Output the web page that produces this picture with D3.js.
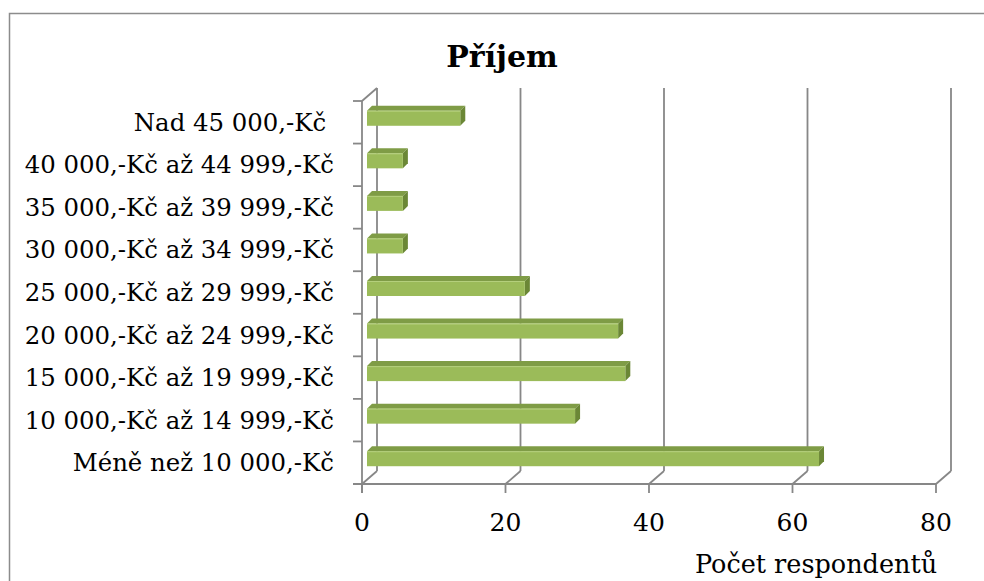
<!DOCTYPE html>
<html>
<head>
<meta charset="utf-8">
<script src="https://cdn.jsdelivr.net/npm/d3@7"></script>
<style>
  body { margin: 0; background: #fff; }
  text { font-family: "DejaVu Serif", serif; fill: #000; }
</style>
</head>
<body>
<svg id="chart" width="984" height="581"></svg>
<script>
// income bands, bottom to top as drawn
var categories = [
  "Méně než 10 000,-Kč",
  "10 000,-Kč až 14 999,-Kč",
  "15 000,-Kč až 19 999,-Kč",
  "20 000,-Kč až 24 999,-Kč",
  "25 000,-Kč až 29 999,-Kč",
  "30 000,-Kč až 34 999,-Kč",
  "35 000,-Kč až 39 999,-Kč",
  "40 000,-Kč až 44 999,-Kč",
  "Nad 45 000,-Kč "
];
var values = [63, 29, 36, 35, 22, 5, 5, 5, 13];
var xTicks = [0, 20, 40, 60, 80];
var title = "Příjem";
var xTitle = "Počet respondentů";

var svg = d3.select("#chart");

var x = d3.scaleLinear().domain([0, 80]).range([362, 936]),
    y = d3.scaleBand().domain(categories).range([484, 101]);

// 3d offsets (back wall, bar position inside depth)
var wallDx = 15, wallDy = -13,
    barDx = 5, barDy = -5,
    barH = 15, barDepth = 5,
    gridColor = "#878787";

// outer frame
svg.append("path")
  .attr("d", "M9.5,581V13.5H984")
  .attr("fill", "none")
  .attr("stroke", "#8c8c8c")
  .attr("stroke-width", 1.5);

// title
svg.append("text")
  .attr("x", 502).attr("y", 67)
  .attr("text-anchor", "middle")
  .style("font-size", "30px")
  .style("font-weight", "bold")
  .text(title);

var y0 = y.range()[0], y1 = y.range()[1];
var grid = svg.append("g")
  .attr("fill", "none")
  .attr("stroke", gridColor)
  .attr("stroke-width", 1.8);

// back gridlines + floor diagonals
xTicks.forEach(function(v) {
  grid.append("line")
    .attr("x1", x(v) + wallDx).attr("x2", x(v) + wallDx)
    .attr("y1", y1 + wallDy).attr("y2", y0 + wallDy);
  grid.append("line")
    .attr("x1", x(v)).attr("y1", y0)
    .attr("x2", x(v) + wallDx).attr("y2", y0 + wallDy);
  grid.append("line")
    .attr("x1", x(v)).attr("x2", x(v))
    .attr("y1", y0).attr("y2", y0 + 9);
});

// left wall top edge + front value axis
grid.append("line")
  .attr("x1", x(0)).attr("y1", y1)
  .attr("x2", x(0) + wallDx).attr("y2", y1 + wallDy);
grid.append("line")
  .attr("x1", x(0)).attr("x2", x(0))
  .attr("y1", y1).attr("y2", y0 + 9);
grid.append("line")
  .attr("x1", x(0) - 9).attr("x2", x(80))
  .attr("y1", y0).attr("y2", y0);

// category tick marks at band boundaries
categories.forEach(function(c) {
  grid.append("line")
    .attr("x1", x(0) - 9).attr("x2", x(0))
    .attr("y1", y(c)).attr("y2", y(c));
});

// bars
var bars = svg.append("g").selectAll("g")
  .data(categories)
  .enter().append("g");

bars.each(function(c, i) {
  var g = d3.select(this),
      xa = x(0) + barDx,
      xb = x(values[i]) + barDx,
      yt = y(c) + y.bandwidth() / 2 + barDy - barH / 2 + 1,
      yb = yt + barH;
  // top face
  g.append("path")
    .attr("d", "M" + xa + "," + yt + "L" + xb + "," + yt +
      "L" + (xb + barDepth) + "," + (yt - barDepth) +
      "L" + (xa + barDepth) + "," + (yt - barDepth) + "Z")
    .attr("fill", "#7f9c46");
  // side face
  g.append("path")
    .attr("d", "M" + xb + "," + yt + "L" + (xb + barDepth) + "," + (yt - barDepth) +
      "L" + (xb + barDepth) + "," + (yb - barDepth) +
      "L" + xb + "," + yb + "Z")
    .attr("fill", "#6b8736");
  // front face
  g.append("rect")
    .attr("x", xa).attr("y", yt)
    .attr("width", xb - xa).attr("height", barH)
    .attr("fill", "#9bbb59");
  g.append("line")
    .attr("x1", xa).attr("x2", xb)
    .attr("y1", yt + 0.5).attr("y2", yt + 0.5)
    .attr("stroke", "#b4cf7c").attr("stroke-width", 1);
});

// category labels
svg.append("g").selectAll("text")
  .data(categories)
  .enter().append("text")
  .attr("x", 334)
  .attr("y", function(d) { return y(d) + y.bandwidth() / 2; })
  .attr("dy", "0.35em")
  .attr("text-anchor", "end")
  .style("white-space", "pre")
  .style("font-size", "24.4px")
  .text(function(d) { return d; });

// value tick labels
svg.append("g").selectAll("text")
  .data(xTicks)
  .enter().append("text")
  .attr("x", function(d) { return x(d); })
  .attr("y", 531)
  .attr("text-anchor", "middle")
  .style("font-size", "25px")
  .text(function(d) { return d; });

svg.append("text")
  .attr("x", 816).attr("y", 573)
  .attr("text-anchor", "middle")
  .style("font-size", "25.5px")
  .text(xTitle);
</script>
</body>
</html>
